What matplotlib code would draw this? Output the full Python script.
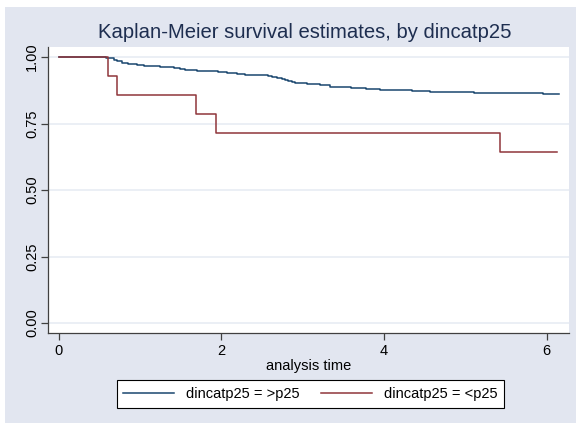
import matplotlib
matplotlib.use("Agg")
from matplotlib import pyplot as plt
from matplotlib.patches import Rectangle

# survival curves, read as step functions (time, S(t))
blue_times = [0, 0.58, 0.63, 0.68, 0.72, 0.78, 0.85, 0.96, 1.05, 1.14, 1.25, 1.33,
              1.42, 1.49, 1.56, 1.62, 1.70, 1.77, 1.88, 1.96, 2.07, 2.19, 2.29, 2.58,
              2.62, 2.68, 2.74, 2.78, 2.82, 2.87, 2.91, 3.05, 3.21, 3.34, 3.44, 3.60,
              3.78, 3.95, 4.15, 4.35, 4.57, 4.85, 5.10, 5.45, 5.63, 5.95]
blue_surv = [1.0, 0.998, 0.995, 0.990, 0.985, 0.978, 0.975, 0.971, 0.968, 0.966, 0.963, 0.962,
             0.959, 0.956, 0.953, 0.950, 0.948, 0.947, 0.946, 0.944, 0.941, 0.935, 0.932, 0.929,
             0.926, 0.922, 0.918, 0.914, 0.910, 0.906, 0.902, 0.898, 0.895, 0.888, 0.886, 0.883,
             0.880, 0.877, 0.875, 0.872, 0.870, 0.868, 0.866, 0.865, 0.864, 0.862]
blue_end = 6.15

red_times = [0, 0.61, 0.72, 1.69, 1.94, 5.43]
red_surv = [1.0, 13/14, 12/14, 11/14, 10/14, 9/14]
red_end = 6.13

labels = ["dincatp25 = >p25", "dincatp25 = <p25"]
xticks = [0, 2, 4, 6]
yticks = [0, 0.25, 0.5, 0.75, 1.0]

navy = "#1a476f"
maroon = "#90353b"
bg = "#e2e6f0"

plt.rcParams["font.family"] = ["Liberation Sans", "DejaVu Sans"]

fig = plt.figure(figsize=(5.76, 4.23), dpi=100)
fig.patch.set_facecolor("white")
fig.patches.append(Rectangle((5/576, 0), 1, 1 - 7/423, transform=fig.transFigure,
                             facecolor=bg, edgecolor="none", zorder=-10))

ax = fig.add_axes([48/576, 1 - 332.7/423, (568.7 - 48)/576, (332.7 - 47)/423])
ax.set_facecolor("white")

ax.step(blue_times + [blue_end], blue_surv + [blue_surv[-1]], where="post",
        color=navy, lw=1.1, label=labels[0], zorder=3)
ax.step(red_times + [red_end], red_surv + [red_surv[-1]], where="post",
        color=maroon, lw=1.1, label=labels[1], zorder=3)

ax.set_xlim(-0.13, 6.27)
ax.set_ylim(-0.036, 1.038)
ax.set_xticks(xticks)
ax.set_xticklabels([str(t) for t in xticks])
ax.set_yticks(yticks)
ax.set_yticklabels(["%.2f" % t for t in yticks], rotation=90, va="center")
for y in yticks:
    ax.axhline(y, color="#e8ecf4", lw=1.2, zorder=1)

for s in ["top", "right"]:
    ax.spines[s].set_visible(False)
for s in ["left", "bottom"]:
    ax.spines[s].set_color("#404040")
    ax.spines[s].set_linewidth(0.9)
ax.tick_params(axis="both", direction="out", length=5, width=0.9, color="#404040",
               labelsize=10.5, labelcolor="black", pad=3)
ax.tick_params(axis="y", pad=1.5)

ax.set_xlabel("analysis time", fontsize=10.5, labelpad=1)
fig.text(305/576, 1 - 33/423, "Kaplan-Meier survival estimates, by dincatp25",
         ha="center", va="center", fontsize=14.6, color="#1e2e50")

leg = fig.legend(loc="center", bbox_to_anchor=((118 + 503) / 2 / 576, 1 - 394/423),
                 ncol=2, fontsize=10.5, frameon=True, fancybox=False,
                 edgecolor="black", facecolor="white", framealpha=1,
                 handlelength=3.5, columnspacing=1.5, handletextpad=0.8,
                 borderpad=0.45)
leg.get_frame().set_linewidth(0.8)

plt.savefig("out.png", dpi=100)
